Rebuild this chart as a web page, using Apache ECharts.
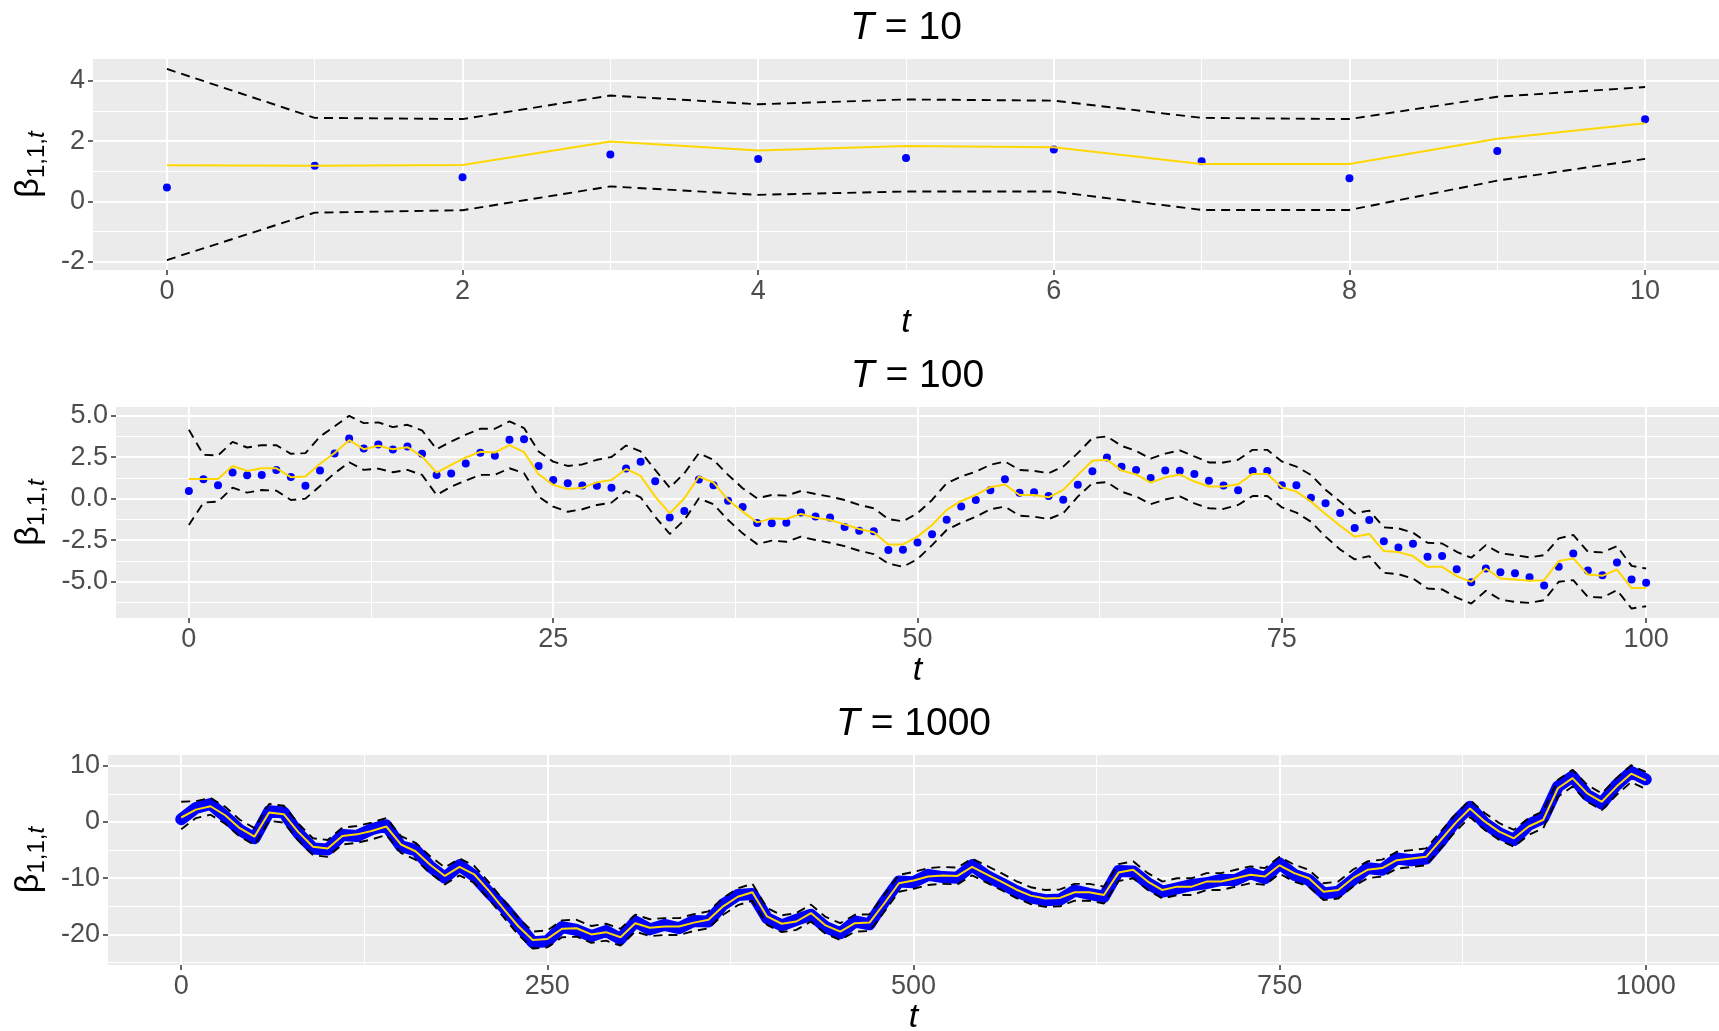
<!DOCTYPE html>
<html>
<head>
<meta charset="utf-8">
<script src="https://cdn.jsdelivr.net/npm/echarts@6/dist/echarts.min.js"></script>
<style>
  html, body { margin: 0; padding: 0; background: #fff; }
  #chart { width: 1719px; height: 1031px; }
</style>
</head>
<body>
<div id="chart"></div>
<script>
const FONT = '"Liberation Sans", Arial, Helvetica, sans-serif';

// ---- T = 10 ----
const t10 = [0, 1, 2, 3, 4, 5, 6, 7, 8, 9, 10];
const obs10 = [0.46, 1.18, 0.80, 1.56, 1.41, 1.44, 1.72, 1.33, 0.77, 1.67, 2.72];
const mean10 = [1.20, 1.18, 1.21, 1.99, 1.69, 1.84, 1.80, 1.24, 1.24, 2.08, 2.59];
const upper10 = [4.39, 2.77, 2.73, 3.51, 3.22, 3.38, 3.34, 2.77, 2.73, 3.47, 3.79];
const lower10 = [-1.94, -0.37, -0.29, 0.50, 0.22, 0.33, 0.33, -0.28, -0.28, 0.69, 1.41];
const xTicks10 = [0, 2, 4, 6, 8, 10];
const xMinor10 = [1, 3, 5, 7, 9];
const yTicks10 = [-2, 0, 2, 4];
const yMinor10 = [-1, 1, 3];

// ---- T = 100 ----
const t100 = [];
for (let i = 0; i <= 100; i++) t100.push(i);
const obs100 = [
  0.46, 1.17, 0.81, 1.57, 1.41, 1.43, 1.73, 1.31, 0.77, 1.69,
  2.72, 3.62, 3.02, 3.26, 2.96, 3.14, 2.70, 1.43, 1.51, 2.11,
  2.76, 2.58, 3.54, 3.58, 1.97, 1.13, 0.92, 0.79, 0.78, 0.65,
  1.81, 2.22, 1.05, -1.13, -0.74, 1.15, 0.81, -0.12, -0.50, -1.47,
  -1.49, -1.45, -0.84, -1.07, -1.13, -1.71, -1.93, -1.97, -3.10, -3.08,
  -2.64, -2.15, -1.27, -0.48, -0.08, 0.51, 1.17, 0.36, 0.38, 0.16,
  -0.06, 0.83, 1.65, 2.48, 1.92, 1.73, 1.24, 1.69, 1.68, 1.49,
  1.07, 0.79, 0.51, 1.67, 1.67, 0.81, 0.81, 0.06, -0.28, -0.86,
  -1.77, -1.29, -2.56, -2.94, -2.72, -3.50, -3.46, -4.25, -5.03, -4.21,
  -4.43, -4.49, -4.73, -5.23, -4.11, -3.30, -4.33, -4.61, -3.84, -4.87,
  -5.07
];
const mean100 = [
  1.19, 1.19, 1.19, 1.97, 1.67, 1.83, 1.83, 1.29, 1.33, 2.10,
  2.75, 3.52, 2.98, 3.18, 2.98, 3.10, 2.54, 1.57, 2.03, 2.48,
  2.82, 2.78, 3.22, 2.80, 1.47, 0.83, 0.58, 0.65, 0.98, 1.12,
  1.79, 1.37, 0.12, -0.89, 0.02, 1.33, 0.97, -0.08, -0.78, -1.43,
  -1.19, -1.23, -0.92, -1.15, -1.29, -1.55, -1.83, -2.03, -2.76, -2.76,
  -2.29, -1.59, -0.68, -0.14, 0.22, 0.69, 0.85, 0.22, 0.22, 0.08,
  0.53, 1.43, 2.28, 2.34, 1.70, 1.46, 0.97, 1.28, 1.45, 1.03,
  0.73, 0.73, 0.87, 1.49, 1.49, 0.69, 0.42, -0.18, -0.93, -1.63,
  -2.29, -2.13, -3.16, -3.22, -3.46, -4.11, -4.11, -4.67, -5.01, -4.21,
  -4.81, -4.87, -4.95, -4.91, -3.76, -3.60, -4.57, -4.65, -4.27, -5.39,
  -5.39
];
const upper100 = [
  4.15, 2.64, 2.60, 3.42, 3.08, 3.22, 3.22, 2.70, 2.74, 3.74,
  4.35, 4.99, 4.55, 4.59, 4.31, 4.45, 4.11, 2.98, 3.44, 3.85,
  4.21, 4.21, 4.65, 4.25, 2.84, 2.23, 1.97, 2.06, 2.34, 2.51,
  3.20, 2.84, 1.73, 0.66, 1.53, 2.74, 2.34, 1.43, 0.63, 0.02,
  0.22, 0.18, 0.46, 0.28, 0.12, -0.08, -0.38, -0.58, -1.23, -1.37,
  -0.88, -0.08, 0.93, 1.33, 1.63, 2.04, 2.24, 1.73, 1.67, 1.53,
  1.93, 2.74, 3.65, 3.75, 3.18, 2.87, 2.41, 2.71, 2.91, 2.54,
  2.18, 2.18, 2.34, 2.94, 2.94, 2.24, 1.93, 1.43, 0.53, -0.18,
  -0.89, -0.72, -1.73, -1.79, -2.05, -2.66, -2.70, -3.20, -3.56, -2.80,
  -3.30, -3.40, -3.54, -3.40, -2.39, -2.19, -3.20, -3.24, -2.86, -4.05,
  -4.21
];
const lower100 = [
  -1.59, -0.24, -0.18, 0.66, 0.36, 0.52, 0.48, -0.08, 0.00, 0.76,
  1.53, 2.19, 1.73, 1.81, 1.59, 1.73, 1.43, 0.22, 0.72, 1.09,
  1.43, 1.43, 1.83, 1.53, 0.12, -0.48, -0.79, -0.64, -0.38, -0.24,
  0.46, 0.08, -1.09, -2.13, -1.29, 0.02, -0.34, -1.29, -2.09, -2.74,
  -2.53, -2.60, -2.29, -2.49, -2.66, -2.86, -3.14, -3.34, -3.91, -4.11,
  -3.64, -2.80, -1.89, -1.45, -1.09, -0.64, -0.48, -1.03, -1.09, -1.23,
  -0.88, 0.12, 0.93, 0.99, 0.42, 0.13, -0.33, -0.05, 0.14, -0.28,
  -0.58, -0.62, -0.38, 0.16, 0.16, -0.52, -0.84, -1.39, -2.29, -3.06,
  -3.66, -3.46, -4.47, -4.55, -4.81, -5.41, -5.47, -5.96, -6.32, -5.55,
  -6.08, -6.22, -6.28, -6.12, -5.01, -4.91, -5.92, -5.96, -5.51, -6.62,
  -6.48
];
const xTicks100 = [0, 25, 50, 75, 100];
const xMinor100 = [12.5, 37.5, 62.5, 87.5];
const yTicks100 = [-5, -2.5, 0, 2.5, 5];
const yMinor100 = [-6.25, -3.75, -1.25, 1.25, 3.75];

// ---- T = 1000 (read every 10 steps) ----
const t1000 = [];
for (let i = 0; i <= 1000; i += 10) t1000.push(i);
const obs1000 = [
  0.5, 2.5, 3.2, 1.0, -1.4, -2.9, 1.9, 1.7, -2.0, -4.7,
  -4.9, -2.3, -2.5, -1.3, -0.6, -4.3, -5.0, -7.9, -9.9, -7.7,
  -9.6, -12.5, -15.1, -18.2, -21.4, -21.2, -18.7, -19.2, -20.3, -19.4,
  -20.8, -17.7, -19.1, -18.3, -18.9, -17.6, -17.7, -14.7, -13.0, -12.8,
  -17.1, -18.4, -17.4, -16.5, -18.7, -19.8, -17.7, -18.2, -14.2, -10.6,
  -10.7, -9.4, -9.8, -9.9, -7.7, -9.6, -10.9, -12.3, -13.4, -13.9,
  -13.8, -12.2, -12.8, -13.3, -8.7, -8.8, -10.9, -12.4, -11.8, -11.2,
  -10.9, -10.3, -10.3, -9.1, -10.0, -7.4, -9.4, -10.3, -12.7, -12.4,
  -10.3, -8.2, -8.5, -6.5, -6.8, -6.5, -3.5, 0.1, 2.7, -0.2,
  -2.0, -3.2, -0.5, 0.7, 6.3, 8.1, 4.8, 3.3, 6.6, 8.9,
  7.6
];
const mean1000 = [
  0.8, 2.2, 2.8, 1.2, -1.1, -2.6, 1.7, 1.4, -1.8, -4.4,
  -4.7, -2.5, -2.2, -1.6, -0.8, -4.0, -5.2, -7.6, -9.6, -8.0,
  -9.3, -12.2, -15.4, -18.5, -21.0, -20.8, -19.0, -18.9, -20.0, -19.6,
  -20.5, -18.0, -18.8, -18.6, -18.6, -17.9, -17.4, -15.0, -13.3, -12.5,
  -16.8, -18.1, -17.7, -16.2, -18.4, -19.5, -18.0, -17.9, -14.5, -10.9,
  -10.4, -9.7, -9.5, -9.6, -8.0, -9.3, -10.6, -12.0, -13.1, -13.6,
  -13.5, -12.5, -12.5, -13.0, -9.0, -8.5, -10.6, -12.1, -11.5, -11.5,
  -10.6, -10.6, -10.0, -9.4, -9.7, -7.7, -9.1, -10.0, -12.4, -12.1,
  -10.0, -8.5, -8.2, -6.8, -6.5, -6.2, -3.2, -0.2, 2.4, 0.1,
  -1.7, -2.9, -0.8, 0.4, 6.0, 7.8, 5.1, 3.6, 6.3, 8.6,
  7.4
];
const upper1000 = [
  3.6, 3.7, 4.3, 2.7, 0.4, -1.1, 3.2, 2.9, -0.3, -2.9,
  -3.2, -1.0, -0.7, -0.1, 0.7, -2.5, -3.7, -6.1, -8.1, -6.5,
  -7.8, -10.7, -13.9, -17.0, -19.5, -19.3, -17.5, -17.4, -18.5, -18.1,
  -19.0, -16.5, -17.3, -17.1, -17.1, -16.4, -15.9, -13.5, -11.8, -11.0,
  -15.3, -16.6, -16.2, -14.7, -16.9, -18.0, -16.5, -16.4, -13.0, -9.4,
  -8.9, -8.2, -8.0, -8.1, -6.5, -7.8, -9.1, -10.5, -11.6, -12.1,
  -12.0, -11.0, -11.0, -11.5, -7.5, -7.0, -9.1, -10.6, -10.0, -10.0,
  -9.1, -9.1, -8.5, -7.9, -8.2, -6.2, -7.6, -8.5, -10.9, -10.6,
  -8.5, -7.0, -6.7, -5.3, -5.0, -4.7, -1.7, 1.3, 3.9, 1.6,
  -0.2, -1.4, 0.7, 1.9, 7.5, 9.3, 6.6, 5.1, 7.8, 10.1,
  8.9
];
const lower1000 = [
  -1.3, 0.7, 1.3, -0.3, -2.6, -4.1, 0.2, -0.1, -3.3, -5.9,
  -6.2, -4.0, -3.7, -3.1, -2.3, -5.5, -6.7, -9.1, -11.1, -9.5,
  -10.8, -13.7, -16.9, -20.0, -22.5, -22.3, -20.5, -20.4, -21.5, -21.1,
  -22.0, -19.5, -20.3, -20.1, -20.1, -19.4, -18.9, -16.5, -14.8, -14.0,
  -18.3, -19.6, -19.2, -17.7, -19.9, -21.0, -19.5, -19.4, -16.0, -12.4,
  -11.9, -11.2, -11.0, -11.1, -9.5, -10.8, -12.1, -13.5, -14.6, -15.1,
  -15.0, -14.0, -14.0, -14.5, -10.5, -10.0, -12.1, -13.6, -13.0, -13.0,
  -12.1, -12.1, -11.5, -10.9, -11.2, -9.2, -10.6, -11.5, -13.9, -13.6,
  -11.5, -10.0, -9.7, -8.3, -8.0, -7.7, -4.7, -1.7, 0.9, -1.4,
  -3.2, -4.4, -2.3, -1.1, 4.5, 6.3, 3.6, 2.1, 4.8, 7.1,
  5.9
];
const xTicks1000 = [0, 250, 500, 750, 1000];
const xMinor1000 = [125, 375, 625, 875];
const yTicks1000 = [-20, -10, 0, 10];
const yMinor1000 = [-25, -15, -5, 5];

// ---- layout of the three panels ----
const panels = [
  { title: '10', left: 93, top: 59, height: 211, xMin: -0.5, xMax: 10.5, yMin: -2.27, yMax: 4.72,
    xTicks: xTicks10, xMinor: xMinor10, yTicks: yTicks10, yMinor: yMinor10, yGap: 44, yFmt: v => String(v),
    t: t10, obs: obs10, mean: mean10, upper: upper10, lower: lower10, dense: false },
  { title: '100', left: 116, top: 407, height: 211, xMin: -5, xMax: 105, yMin: -7.19, yMax: 5.52,
    xTicks: xTicks100, xMinor: xMinor100, yTicks: yTicks100, yMinor: yMinor100, yGap: 67, yFmt: v => v.toFixed(1),
    t: t100, obs: obs100, mean: mean100, upper: upper100, lower: lower100, dense: false },
  { title: '1000', left: 108, top: 755, height: 210, xMin: -50, xMax: 1050, yMin: -25.44, yMax: 11.92,
    xTicks: xTicks1000, xMinor: xMinor1000, yTicks: yTicks1000, yMinor: yMinor1000, yGap: 59, yFmt: v => String(v),
    t: t1000, obs: obs1000, mean: mean1000, upper: upper1000, lower: lower1000, dense: true }
];

const pairs = (xs, ys) => xs.map((x, i) => [x, ys[i]]);

const grid = [], xAxis = [], yAxis = [], series = [], graphic = [];

panels.forEach((p, i) => {
  grid.push({
    left: p.left, top: p.top, right: 0, height: p.height,
    show: true, backgroundColor: '#EBEBEB', borderWidth: 0,
    containLabel: false, outerBoundsMode: 'none'
  });
  // major axes (index i)
  xAxis[i] = {
    type: 'value', gridIndex: i, min: p.xMin, max: p.xMax,
    axisLine: { show: false, onZero: false },
    axisTick: { show: true, length: 5, customValues: p.xTicks, lineStyle: { color: '#333', width: 1.5 } },
    axisLabel: { customValues: p.xTicks, color: '#4D4D4D', fontSize: 27, fontFamily: FONT, margin: 8,
      formatter: v => String(v) },
    splitLine: { show: true, lineStyle: { color: '#fff', width: 2 } },
    name: 't', nameLocation: 'middle', nameGap: 30,
    nameTextStyle: { fontStyle: 'italic', fontSize: 34, color: '#000', fontFamily: FONT }
  };
  yAxis[i] = {
    type: 'value', gridIndex: i, min: p.yMin, max: p.yMax,
    axisLine: { show: false, onZero: false },
    axisTick: { show: true, length: 5, customValues: p.yTicks, lineStyle: { color: '#333', width: 1.5 } },
    axisLabel: { customValues: p.yTicks, color: '#4D4D4D', fontSize: 27, fontFamily: FONT, margin: 8, formatter: p.yFmt },
    splitLine: { show: true, lineStyle: { color: '#fff', width: 2 } },
    name: '{b|\u03B2}{s|1,1,}{ti|t}', nameLocation: 'middle', nameRotate: 90, nameGap: p.yGap,
    nameTextStyle: {
      color: '#000', fontFamily: FONT,
      rich: {
        b: { fontSize: 34, fontFamily: FONT, color: '#000', verticalAlign: 'bottom', padding: [0, 0, 3, 0] },
        s: { fontSize: 24, fontFamily: FONT, color: '#000', verticalAlign: 'bottom' },
        ti: { fontSize: 24, fontFamily: FONT, color: '#000', fontStyle: 'italic', verticalAlign: 'bottom' }
      }
    }
  };
  // minor grid axes (index i + 3)
  xAxis[i + 3] = {
    type: 'value', gridIndex: i, min: p.xMin, max: p.xMax, position: 'top',
    axisLine: { show: false, onZero: false }, axisTick: { show: false, customValues: p.xMinor },
    axisLabel: { show: false, customValues: p.xMinor },
    splitLine: { show: true, lineStyle: { color: '#fff', width: 1 } }
  };
  yAxis[i + 3] = {
    type: 'value', gridIndex: i, min: p.yMin, max: p.yMax, position: 'right',
    axisLine: { show: false, onZero: false }, axisTick: { show: false, customValues: p.yMinor },
    axisLabel: { show: false, customValues: p.yMinor },
    splitLine: { show: true, lineStyle: { color: '#fff', width: 1 } }
  };

  if (p.dense) {
    series.push({
      type: 'line', xAxisIndex: i, yAxisIndex: i, data: pairs(p.t, p.obs),
      symbol: 'circle', symbolSize: 9, showSymbol: true, showAllSymbol: true,
      itemStyle: { color: '#0000FF', opacity: 1 },
      lineStyle: { color: '#0000FF', width: 12, cap: 'round', join: 'round' },
      z: 2, silent: true
    });
  } else {
    series.push({
      type: 'scatter', xAxisIndex: i, yAxisIndex: i, data: pairs(p.t, p.obs),
      symbol: 'circle', symbolSize: 8, itemStyle: { color: '#0000FF', opacity: 1 }, z: 2, silent: true
    });
  }
  [p.upper, p.lower].forEach(band => {
    series.push({
      type: 'line', xAxisIndex: i, yAxisIndex: i, data: pairs(p.t, band),
      showSymbol: false, lineStyle: { color: '#000', width: 1.9, type: [9, 6] }, z: 3, silent: true
    });
  });
  series.push({
    type: 'line', xAxisIndex: i, yAxisIndex: i, data: pairs(p.t, p.mean),
    showSymbol: false, lineStyle: { color: '#FFD700', width: 2 }, z: 4, silent: true
  });

  graphic.push({
    type: 'text', x: (p.left + 1719) / 2, y: p.top - 31,
    style: {
      text: '{i|T} = ' + p.title, align: 'center', verticalAlign: 'middle',
      fontSize: 39, fontFamily: FONT, fill: '#000',
      rich: {
        i: { fontSize: 39, fontFamily: FONT, fontStyle: 'italic', fill: '#000' }
      }
    }
  });
});

const chart = echarts.init(document.getElementById('chart'), null, { renderer: 'canvas' });
chart.setOption({
  animation: false,
  backgroundColor: '#fff',
  grid, xAxis, yAxis, series, graphic
});
</script>
</body>
</html>
